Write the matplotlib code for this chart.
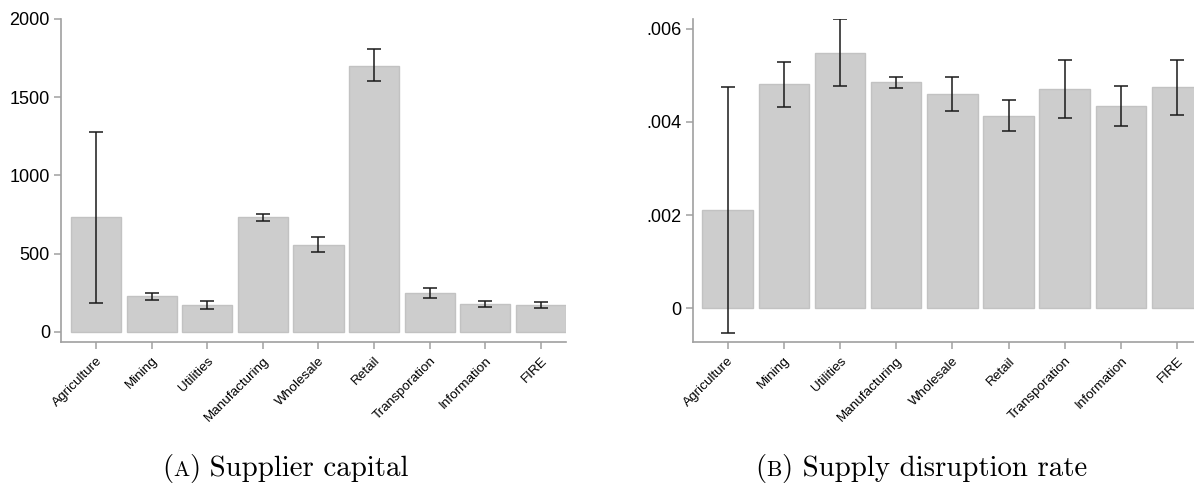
import matplotlib
matplotlib.use("Agg")
from matplotlib import pyplot as plt
import numpy as np

sectors = ['Agriculture', 'Mining', 'Utilities', 'Manufacturing', 'Wholesale',
           'Retail', 'Transporation', 'Information', 'FIRE']

# panel A: supplier capital
capital = [734, 230, 172, 734, 555, 1701, 249, 181, 174]
capital_lo = [187, 206, 149, 712, 511, 1602, 219, 161, 155]
capital_hi = [1278, 249, 195, 751, 604, 1806, 278, 200, 191]

# panel B: supply disruption rate
disrupt = [0.00210, 0.00481, 0.00548, 0.00485, 0.00459, 0.00412, 0.00471, 0.00433, 0.00474]
disrupt_lo = [-0.00052, 0.00431, 0.00476, 0.00473, 0.00423, 0.00380, 0.00409, 0.00391, 0.00414]
disrupt_hi = [0.00475, 0.00529, 0.00620, 0.00497, 0.00496, 0.00446, 0.00533, 0.00476, 0.00533]

ticks_a = [0, 500, 1000, 1500, 2000]
ticks_b = [0, 0.002, 0.004, 0.006]
ticklabels_b = ['0', '.002', '.004', '.006']

plt.rcParams['font.family'] = ['Liberation Sans', 'DejaVu Sans']

GRAY = '#a0a0a0'


def bar_panel(ax, vals, lo, hi, yticks, yticklabels, ylim, xlim):
    x = np.arange(len(vals))
    vals = np.asarray(vals)
    err = [vals - np.asarray(lo), np.asarray(hi) - vals]
    ax.bar(x, vals, width=0.9, color='#cdcdcd', edgecolor='#c2c2c2', linewidth=1, zorder=1)
    ax.errorbar(x, vals, yerr=err, fmt='none', ecolor='#1a1a1a', elinewidth=1.1,
                capsize=5, capthick=1.1, zorder=2)
    ax.set_xlim(*xlim)
    ax.set_ylim(*ylim)
    ax.set_yticks(yticks)
    ax.set_yticklabels(yticklabels, fontsize=13)
    ax.set_xticks(x)
    ax.set_xticklabels(sectors, rotation=45, ha='right', rotation_mode='anchor', fontsize=9.7)
    for side in ['top', 'right']:
        ax.spines[side].set_visible(False)
    for side in ['left', 'bottom']:
        ax.spines[side].set_color(GRAY)
        ax.spines[side].set_linewidth(1.2)
    ax.tick_params(axis='both', colors=GRAY, length=5, width=1.1, labelcolor='black')
    ax.tick_params(axis='y', pad=3)
    ax.tick_params(axis='x', pad=4)


def caption(fig, x_left, y_base, pieces):
    # pieces of (text, size) set side by side on one baseline, for the small-caps letter
    renderer = fig.canvas.get_renderer()
    x = x_left
    for s, size in pieces:
        t = fig.text(x / 1194, 1 - y_base / 483, s, family='cmr10', fontsize=size,
                     ha='left', va='baseline')
        bb = t.get_window_extent(renderer)
        x += bb.width


fig = plt.figure(figsize=(11.94, 4.83), dpi=100)

ax1 = fig.add_axes([0.0511, 0.2919, 0.4229, 0.6688])
bar_panel(ax1, capital, capital_lo, capital_hi, ticks_a, [str(t) for t in ticks_a],
          (-64, 2000), (-0.63, 8.45))

ax2 = fig.add_axes([0.5802, 0.2913, 0.4198, 0.6687])
bar_panel(ax2, disrupt, disrupt_lo, disrupt_hi, ticks_b, ticklabels_b,
          (-0.00073, 0.0062), (-0.62, 8.30))

caption(fig, 162, 476, [('(', 20.8), ('A', 15.5), (')', 20.8), (' Supplier capital', 20.8)])
caption(fig, 755, 476, [('(', 20.8), ('B', 15.5), (')', 20.8), (' Supply disruption rate', 20.8)])

fig.savefig('out.png', dpi=100)
